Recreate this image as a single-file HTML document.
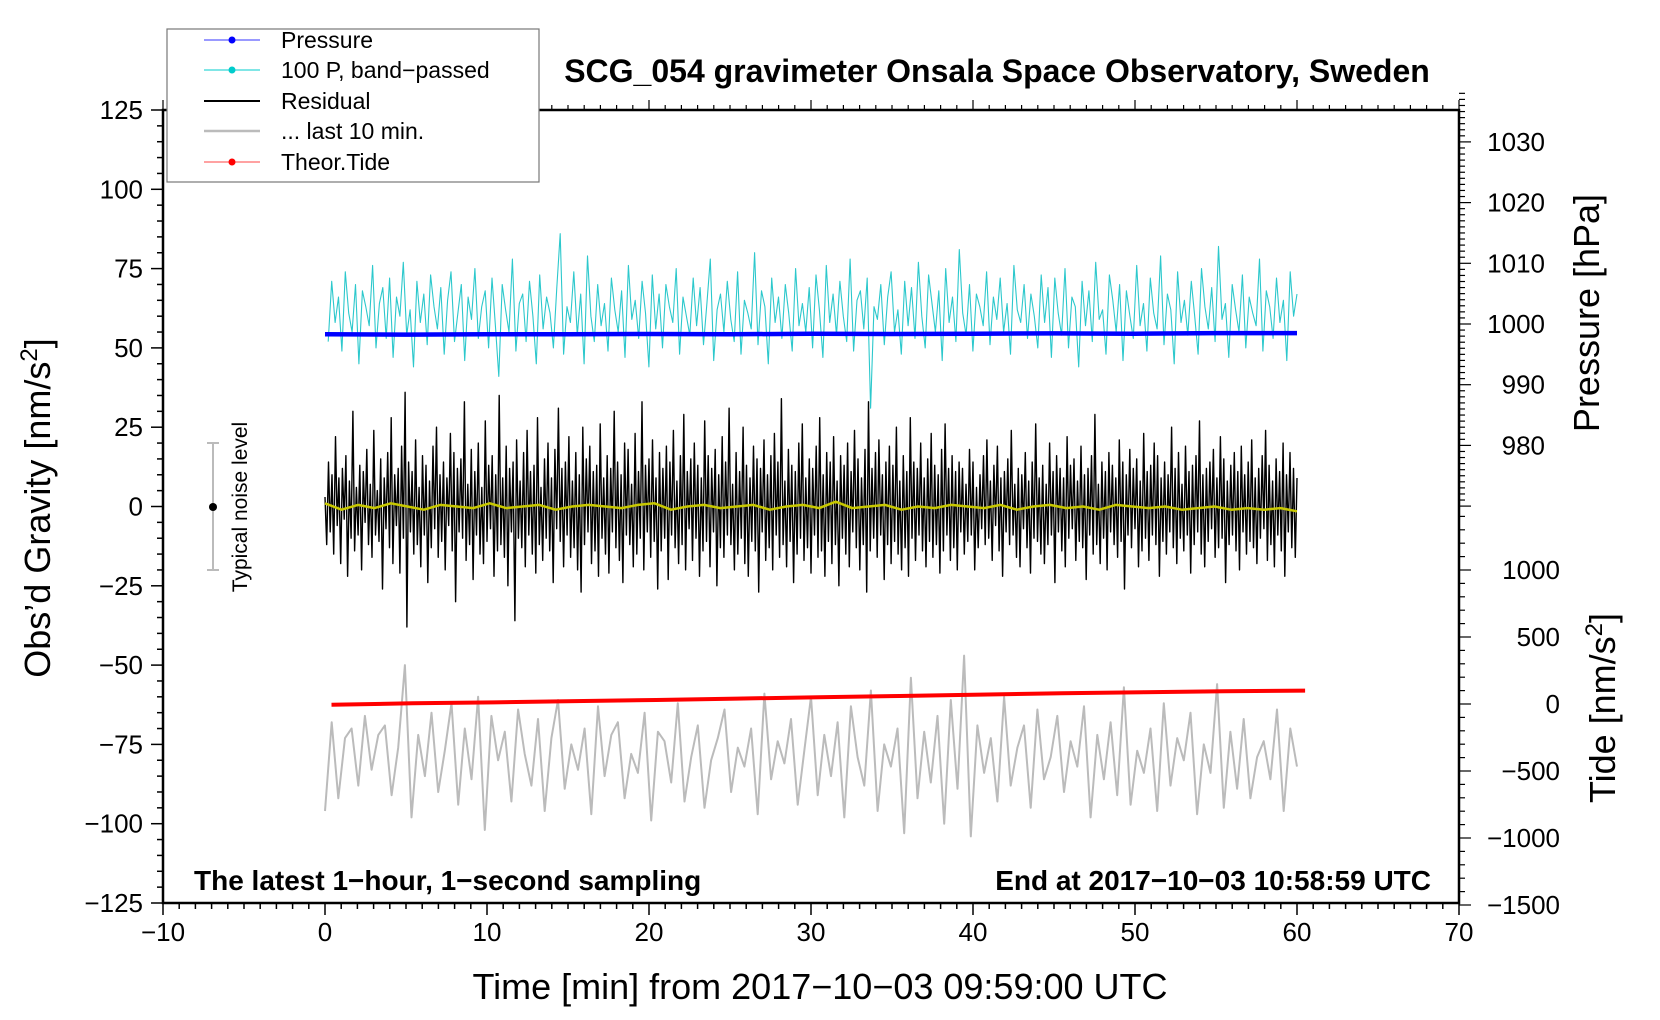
<!DOCTYPE html>
<html><head><meta charset="utf-8">
<style>
html,body{margin:0;padding:0;background:#fff;}
svg{display:block;font-family:"Liberation Sans",Arial,sans-serif;}
</style></head>
<body>
<svg id="chart" width="1660" height="1020" viewBox="0 0 1660 1020" xmlns="http://www.w3.org/2000/svg">
<g id="marks"></g>
<g id="axes"></g>
<text x="997" y="82" text-anchor="middle" font-size="32" font-weight="bold">SCG_054 gravimeter Onsala Space Observatory, Sweden</text>
<text x="194" y="890" font-size="28" font-weight="bold">The latest 1−hour, 1−second sampling</text>
<text x="1431" y="890" text-anchor="end" font-size="28" font-weight="bold">End at 2017−10−03 10:58:59 UTC</text>
<text x="820" y="999" text-anchor="middle" font-size="36">Time [min] from 2017−10−03 09:59:00 UTC</text>
<text transform="translate(50,508) rotate(-90)" text-anchor="middle" font-size="36">Obs’d Gravity [nm/s<tspan dy="-13" font-size="24">2</tspan><tspan dy="13">]</tspan></text>
<text transform="translate(1599,313) rotate(-90)" text-anchor="middle" font-size="36">Pressure [hPa]</text>
<text transform="translate(1615,708) rotate(-90)" text-anchor="middle" font-size="36">Tide [nm/s<tspan dy="-13" font-size="24">2</tspan><tspan dy="13">]</tspan></text>
<g>
<line x1="213" y1="443" x2="213" y2="570" stroke="#bbb" stroke-width="2"/>
<line x1="207" y1="443" x2="219" y2="443" stroke="#bbb" stroke-width="2"/>
<line x1="207" y1="570" x2="219" y2="570" stroke="#bbb" stroke-width="2"/>
<circle cx="213" cy="507" r="4" fill="#000"/>
<text transform="translate(247,507) rotate(-90)" text-anchor="middle" font-size="21">Typical noise level</text>
</g>
<g>
<rect x="167" y="29" width="372" height="153" fill="#fff" stroke="#777" stroke-width="1.2"/>
<g><line x1="204" y1="40" x2="260" y2="40" stroke="#33f" stroke-width="1"/><circle cx="232" cy="40" r="3.5" fill="#00f"/><text x="281" y="48" font-size="23">Pressure</text></g>
<g><line x1="204" y1="70" x2="260" y2="70" stroke="#0cc" stroke-width="1"/><circle cx="232" cy="70" r="3.5" fill="#0cc"/><text x="281" y="78" font-size="23">100 P, band−passed</text></g>
<g><line x1="204" y1="101" x2="260" y2="101" stroke="#000" stroke-width="2"/><text x="281" y="109" font-size="23">Residual</text></g>
<g><line x1="204" y1="131" x2="260" y2="131" stroke="#bbb" stroke-width="2.5"/><text x="281" y="139" font-size="23">... last 10 min.</text></g>
<g><line x1="204" y1="162" x2="260" y2="162" stroke="#f44" stroke-width="1"/><circle cx="232" cy="162" r="3.5" fill="#f00"/><text x="281" y="170" font-size="23">Theor.Tide</text></g>
</g>
</svg>
<script>
const xTicks = [-10,0,10,20,30,40,50,60,70];
const yTicks = [125,100,75,50,25,0,-25,-50,-75,-100,-125];
const pTicks = [1030,1020,1010,1000,990,980];
const tTicks = [1000,500,0,-500,-1000,-1500];
const residual = [3,-12,14,-8,10,-15,22,-6,9,-18,12,-4,16,-22,8,-10,30,-14,6,-9,13,-20,11,-5,18,-12,7,-16,24,-9,5,-11,15,-26,9,-7,17,-13,28,-18,10,-6,12,-21,19,-10,36,-38,14,-8,11,-15,21,-12,6,-19,16,-9,13,-24,8,-13,19,-7,25,-16,10,-11,14,-20,9,-6,23,-14,17,-30,12,-8,15,-10,33,-17,7,-12,18,-23,11,-9,20,-15,6,-18,27,-11,13,-7,16,-22,10,-14,35,-12,9,-16,19,-25,12,-8,14,-36,21,-10,8,-13,17,-19,24,-9,11,-15,13,-21,28,-12,6,-17,15,-10,20,-14,9,-24,18,-7,31,-11,12,-19,14,-9,22,-16,8,-13,17,-20,10,-27,25,-12,15,-8,19,-18,11,-14,13,-22,26,-10,9,-15,16,-21,12,-8,30,-13,14,-17,10,-24,20,-9,18,-12,7,-19,23,-15,11,-10,33,-20,13,-8,15,-16,21,-11,9,-26,17,-14,12,-10,19,-23,14,-9,24,-13,8,-18,16,-12,29,-20,11,-7,15,-17,20,-10,13,-22,9,-14,27,-11,16,-19,12,-8,18,-25,10,-13,22,-16,14,-9,31,-12,7,-20,17,-15,11,-10,25,-18,13,-22,9,-11,19,-14,15,-27,12,-8,21,-17,10,-13,16,-20,23,-9,14,-16,34,-12,8,-19,18,-11,13,-24,11,-15,20,-10,26,-17,9,-13,15,-21,12,-9,19,-16,28,-14,10,-22,17,-11,14,-18,22,-12,8,-25,16,-10,13,-15,20,-19,11,-8,24,-13,15,-20,9,-12,18,-27,33,-14,12,-10,17,-16,21,-9,10,-23,14,-12,19,-18,13,-11,25,-15,8,-20,16,-13,11,-22,28,-10,14,-17,12,-9,20,-14,9,-19,15,-11,23,-16,13,-12,10,-21,18,-14,26,-9,12,-17,16,-13,11,-20,14,
 -8,12,-15,7,-11,18,-9,14,-20,6,-13,10,-7,16,-12,21,-10,8,-17,13,-6,19,-14,9,-22,11,-8,15,-12,24,-9,7,-16,12,-19,10,-7,17,-13,8,-21,14,-10,26,-11,9,-15,13,-18,7,-12,20,-9,11,-24,16,-8,12,-14,9,-19,22,-10,13,-7,15,-17,8,-11,19,-13,10,-23,12,-9,16,-15,29,-12,7,-18,14,-10,11,-20,17,-8,13,-12,9,-16,21,-11,14,-26,10,-9,18,-13,12,-7,15,-19,8,-14,23,-10,11,-17,13,-9,20,-12,16,-22,9,-11,14,-15,10,-8,25,-13,12,-18,17,-10,7,-14,19,-9,11,-21,13,-12,16,-8,27,-15,10,-19,12,-11,14,-7,18,-16,9,-13,22,-10,15,-24,8,-12,13,-9,17,-14,11,-20,19,-8,10,-15,14,-11,21,-13,9,-18,12,-10,16,-7,24,-17,13,-12,8,-19,15,-9,11,-14,20,-22,10,-8,17,-13,12,-16,9];
const bandPassed = [52,71,58,66,49,74,61,55,70,45,68,63,57,76,50,64,69,53,72,47,66,60,77,54,62,44,71,58,67,51,73,63,56,69,48,65,74,52,61,70,46,66,59,75,53,63,68,50,72,57,41,70,62,55,78,49,64,67,52,71,60,45,73,56,66,61,50,69,86,48,63,58,74,54,67,45,79,60,52,70,57,64,49,72,62,55,68,47,76,59,65,53,71,61,44,73,56,67,50,70,63,58,75,48,66,60,54,72,57,69,51,64,78,46,62,67,55,71,59,52,74,48,65,61,56,80,51,68,63,45,72,58,66,53,70,61,49,75,57,64,55,69,50,73,62,47,76,58,67,54,71,60,52,78,49,65,68,56,72,31,63,59,70,51,66,74,55,62,48,71,57,69,53,77,60,50,73,64,55,68,46,75,58,66,52,81,61,54,70,49,67,63,57,74,51,66,59,72,55,64,48,76,62,58,70,53,67,60,50,73,
 58,69,47,72,61,54,75,50,66,63,44,71,57,68,52,77,59,62,48,73,65,55,70,46,68,60,53,76,57,64,49,72,61,56,79,51,67,62,45,74,58,65,54,71,60,48,75,63,56,69,52,82,59,64,47,70,62,55,73,50,66,61,57,78,49,68,63,53,72,58,65,46,74,60,67];
const pressure = [998.3,998.25,998.3,998.3,998.35,998.3,998.4,998.35,998.4,998.45,998.4,998.5,998.5];
const smooth = [1,-1,0.5,-0.5,1,0,-1,0.5,0,-0.5,1,-0.5,0,0.5,-1,0,0.5,0,-0.5,0.5,1,-1,0,0.5,-0.5,0,0.5,-1,0,0.5,-0.5,1.5,-0.5,0,0.5,-1,0,-0.5,0.5,0,-0.5,0.5,-1,0,0.5,-0.5,0,-1,0.5,0,-0.5,0,-1,-0.5,0,-1,-0.5,-1,-0.5,-1.5];
const last10 = [-96,-68,-92,-73,-70,-88,-66,-83,-72,-69,-91,-76,-50,-98,-72,-85,-65,-90,-77,-62,-94,-70,-86,-60,-102,-66,-80,-71,-93,-64,-78,-88,-67,-96,-73,-61,-89,-75,-83,-70,-97,-63,-85,-72,-68,-92,-78,-84,-65,-99,-71,-74,-87,-62,-93,-79,-69,-95,-80,-73,-64,-90,-76,-82,-70,-97,-59,-86,-74,-81,-67,-94,-77,-60,-91,-72,-85,-68,-98,-63,-79,-88,-58,-96,-75,-82,-70,-103,-54,-92,-71,-87,-66,-100,-61,-89,-47,-104,-69,-84,-73,-93,-60,-88,-76,-69,-95,-64,-86,-79,-66,-90,-74,-82,-63,-98,-72,-86,-68,-91,-57,-94,-77,-84,-70,-96,-62,-88,-73,-80,-65,-97,-75,-84,-56,-95,-71,-89,-67,-92,-79,-74,-86,-64,-96,-70,-82];
const tide = [-5,5,12,22,30,40,50,60,70,80,88,95,100];

const NS='http://www.w3.org/2000/svg';
const L=163,R=1459,T=110,B=903;
const xs=v=>L+(v+10)/80*(R-L);
const ys=v=>T+(125-v)/250*(B-T);
const yp=v=>324+(1000-v)*6.07;
const yt=v=>704-v/500*67;
const marks=document.getElementById('marks');
const axes=document.getElementById('axes');
function mk(tag,parent){const e=document.createElementNS(NS,tag);parent.appendChild(e);return e;}
function series(arr,x0,x1,yf,color,w,name){
  const n=arr.length;let d='';
  arr.forEach((v,i)=>{d+=(i?'L':'M')+xs(x0+(x1-x0)*i/(n-1)).toFixed(1)+','+yf(v).toFixed(1);});
  const p=mk('path',marks);
  p.setAttribute('d',d);p.setAttribute('fill','none');p.setAttribute('stroke',color);p.setAttribute('stroke-width',w);p.setAttribute('stroke-linejoin','round');
  
  
}
series(last10,0,60,ys,'#bbb',2,'last-10-min-series');
series(bandPassed,0.2,60,ys,'#2cc8cc',1.1,'band-passed-pressure-series');
series(pressure,0,60,yp,'#0000ff',4.5,'pressure-series');
series(residual,0,60,ys,'#000',1.4,'residual-series');
series(smooth,0,60,ys,'#c8c800',2.5,'residual-smoothed-series');
series(tide,0.4,60.5,yt,'#ff0000',4,'theoretical-tide-series');

function line(x1,y1,x2,y2,w){const l=mk('line',axes);l.setAttribute('x1',x1);l.setAttribute('y1',y1);l.setAttribute('x2',x2);l.setAttribute('y2',y2);l.setAttribute('stroke','#000');l.setAttribute('stroke-width',w);return l;}
function text(x,y,s,anchor){const t=mk('text',axes);t.setAttribute('x',x);t.setAttribute('y',y);t.setAttribute('font-size','26');t.setAttribute('text-anchor',anchor);t.textContent=s.replace(/-/g,'−');return t;}
const frame=mk('rect',axes);
frame.setAttribute('x',L);frame.setAttribute('y',T);frame.setAttribute('width',R-L);frame.setAttribute('height',B-T);
frame.setAttribute('fill','none');frame.setAttribute('stroke','#000');frame.setAttribute('stroke-width','2.5');


for(let m=-10;m<=70;m++){const big=m%10===0;line(xs(m),B,xs(m),B+(big?12:6),1.5);line(xs(m),T,xs(m),T-(big?10:5),1.2);}
xTicks.forEach(v=>{const t=text(xs(v),B+38,String(v),'middle');
  
  });
for(let v=-125;v<=125;v+=5){const big=v%25===0;line(L,ys(v),L-(big?12:6),ys(v),1.5);}
yTicks.forEach(v=>{const t=text(L-20,ys(v)+9,String(v),'end');
  
  });
for(let v=970;v<=1038;v++){const big=v%10===0;line(R,yp(v),R+(big?12:6),yp(v),1.2);}
pTicks.forEach(v=>{const t=text(R+86,yp(v)+9,String(v),'end');
  
  });
for(let v=-1500;v<=1400;v+=100){const big=v%500===0;line(R,yt(v),R+(big?12:6),yt(v),1.2);}
tTicks.forEach(v=>{const t=text(R+101,yt(v)+9,String(v),'end');
  
  });
</script>
</body></html>
